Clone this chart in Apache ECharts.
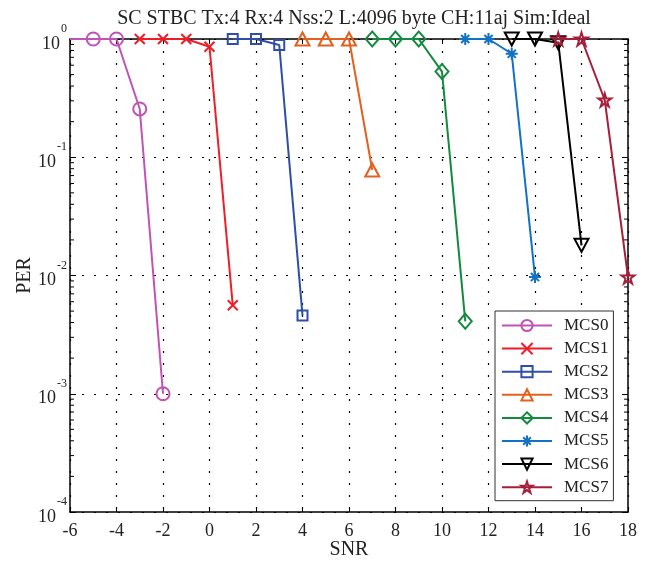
<!DOCTYPE html>
<html>
<head>
<meta charset="utf-8">
<script src="https://cdn.jsdelivr.net/npm/echarts@6/dist/echarts.min.js"></script>
<style>html,body{margin:0;padding:0;background:#fff}#c{width:655px;height:561px}</style>
</head>
<body>
<div id="c"></div>
<script>
var titleText = 'SC STBC Tx:4 Rx:4 Nss:2 L:4096 byte CH:11aj Sim:Ideal';
var seriesNames = ['MCS0','MCS1','MCS2','MCS3','MCS4','MCS5','MCS6','MCS7'];
var snr0 = [-6, -5, -4, -3, -2];      var per0 = [1, 1, 1, 0.256, 0.001];
var snr1 = [-3, -2, -1, 0, 1];        var per1 = [1, 1, 1, 0.86, 0.0056];
var snr2 = [1, 2, 3, 4];              var per2 = [1, 1, 0.89, 0.0046];
var snr3 = [4, 5, 6, 7];              var per3 = [1, 1, 1, 0.078];
var snr4 = [7, 8, 9, 10, 11];         var per4 = [1, 1, 1, 0.53, 0.0041];
var snr5 = [11, 12, 13, 14];          var per5 = [1, 1, 0.75, 0.0097];
var snr6 = [13, 14, 15, 16];          var per6 = [1, 1, 0.93, 0.018];
var snr7 = [15, 16, 17, 18];          var per7 = [1, 1, 0.305, 0.0097];
var xTicks = [-6, -4, -2, 0, 2, 4, 6, 8, 10, 12, 14, 16, 18];
var yDecades = [1e-4, 1e-3, 1e-2, 1e-1];
var minorMantissas = [2, 3, 4, 5, 6, 7, 8, 9];

var colors = ['#C152B6', '#EE1D27', '#2F4EA6', '#E2611F', '#148A3E', '#1272C3', '#000000', '#A61E3A'];
var symbols = [
  'circle',
  'path://M0,0L10,10M10,0L0,10',
  'rect',
  'triangle',
  'diamond',
  'path://M5,0L5,10M0,5L10,5M1.6,1.6L8.4,8.4M8.4,1.6L1.6,8.4',
  'path://M0,0L10,0L5,9Z',
  'path://M5,0L6.18,3.62L10,3.62L6.91,5.86L8.09,9.51L5,7.24L1.91,9.51L3.09,5.86L0,3.62L3.82,3.62Z'
];
var sizes = [13, 10, 10, [14,13], [13,15], 12, [14,13], 13];
var snrs = [snr0, snr1, snr2, snr3, snr4, snr5, snr6, snr7];
var pers = [per0, per1, per2, per3, per4, per5, per6, per7];

var FONT = 'Liberation Serif';
var series = seriesNames.map(function (name, i) {
  var data = snrs[i].map(function (x, j) {
    var item = {value: [x, pers[i][j]]};
    if (i === 0 && j === 0) item.symbol = 'none';
    return item;
  });
  return {
    name: name, type: 'line', data: data, clip: false,
    symbol: symbols[i], symbolSize: sizes[i],
    lineStyle: {color: colors[i], width: 2},
    itemStyle: {color: 'rgba(255,255,255,0)', borderColor: colors[i], borderWidth: 2},
    emphasis: {disabled: true}, z: 3 + i
  };
});

var minorTicks = [];
yDecades.forEach(function (d) { minorMantissas.forEach(function (m) { minorTicks.push(d * m); }); });
series.push({
  type: 'custom', name: 'minor', silent: true, z: 2,
  data: minorTicks.map(function (v) { return [v]; }),
  renderItem: function (params, api) {
    var v = api.value(0);
    var a = api.coord([-6, v]), b = api.coord([18, v]);
    return {type: 'group', children: [
      {type: 'line', shape: {x1: a[0], y1: a[1], x2: a[0] + 4, y2: a[1]}, style: {stroke: '#000', lineWidth: 1}},
      {type: 'line', shape: {x1: b[0] - 4, y1: b[1], x2: b[0], y2: b[1]}, style: {stroke: '#000', lineWidth: 1}}
    ]};
  }
});

var yLabelFmt = function (v) {
  var e = Math.round(Math.log10(v));
  return '{b|10}{s|' + (e === 0 ? '0' : String(e)) + '}';
};
var axisLineStyle = {onZero: false, lineStyle: {color: '#000', width: 1.5}};
var option = {
  backgroundColor: '#fff',
  animation: false,
  title: {text: titleText, left: 349, textAlign: 'center', top: 4,
    textStyle: {fontFamily: FONT, fontSize: 20, fontWeight: 'normal', color: '#222'}},
  grid: {left: 70, right: 27, top: 39, bottom: 49, outerBoundsMode: 'none', containLabel: false},
  legend: {
    data: seriesNames, orient: 'vertical', left: 495, top: 311,
    itemWidth: 50, itemHeight: 14, itemGap: 6.1,
    padding: [6, 5, 5, 6],
    borderColor: '#333', borderWidth: 1, backgroundColor: '#fff',
    textStyle: {fontFamily: FONT, fontSize: 17, color: '#222', padding: [0, 0, 0, 7]}
  },
  xAxis: [{
    type: 'value', min: -6, max: 18, interval: 2,
    name: 'SNR', nameLocation: 'middle', nameGap: 28, nameMoveOverlap: false,
    nameTextStyle: {fontFamily: FONT, fontSize: 20, color: '#222'},
    axisLine: axisLineStyle,
    axisTick: {inside: true, length: 5, lineStyle: {color: '#000'}},
    axisLabel: {fontFamily: FONT, fontSize: 18, color: '#222', margin: 10},
    splitLine: {show: true, lineStyle: {color: '#000', type: [2, 10], width: 1.2}}
  }, {
    type: 'value', min: -6, max: 18, interval: 2, position: 'top',
    axisLine: axisLineStyle,
    axisTick: {inside: true, length: 5, lineStyle: {color: '#000'}},
    axisLabel: {show: false}, splitLine: {show: false}
  }],
  yAxis: [{
    type: 'log', logBase: 10, min: 1e-4, max: 1,
    name: 'PER', nameLocation: 'middle', nameGap: 35, nameRotate: 90, nameMoveOverlap: false,
    nameTextStyle: {fontFamily: FONT, fontSize: 20, color: '#222'},
    axisLine: axisLineStyle,
    axisTick: {inside: true, length: 6, lineStyle: {color: '#000'}},
    axisLabel: {formatter: yLabelFmt, margin: 3,
      rich: {
        b: {fontFamily: FONT, fontSize: 18, color: '#222', padding: [10, 1, 0, 0]},
        s: {fontFamily: FONT, fontSize: 12, color: '#222', padding: [0, 0, 20, 0]}
      }},
    splitLine: {show: true, lineStyle: {color: '#000', type: [2, 10], width: 1.2}}
  }, {
    type: 'log', logBase: 10, min: 1e-4, max: 1, position: 'right',
    axisLine: axisLineStyle,
    axisTick: {inside: true, length: 6, lineStyle: {color: '#000'}},
    axisLabel: {show: false}, splitLine: {show: false}
  }],
  series: series
};
var chart = echarts.init(document.getElementById('c'), null, {renderer: 'canvas'});
chart.setOption(option);
</script>
</body>
</html>
